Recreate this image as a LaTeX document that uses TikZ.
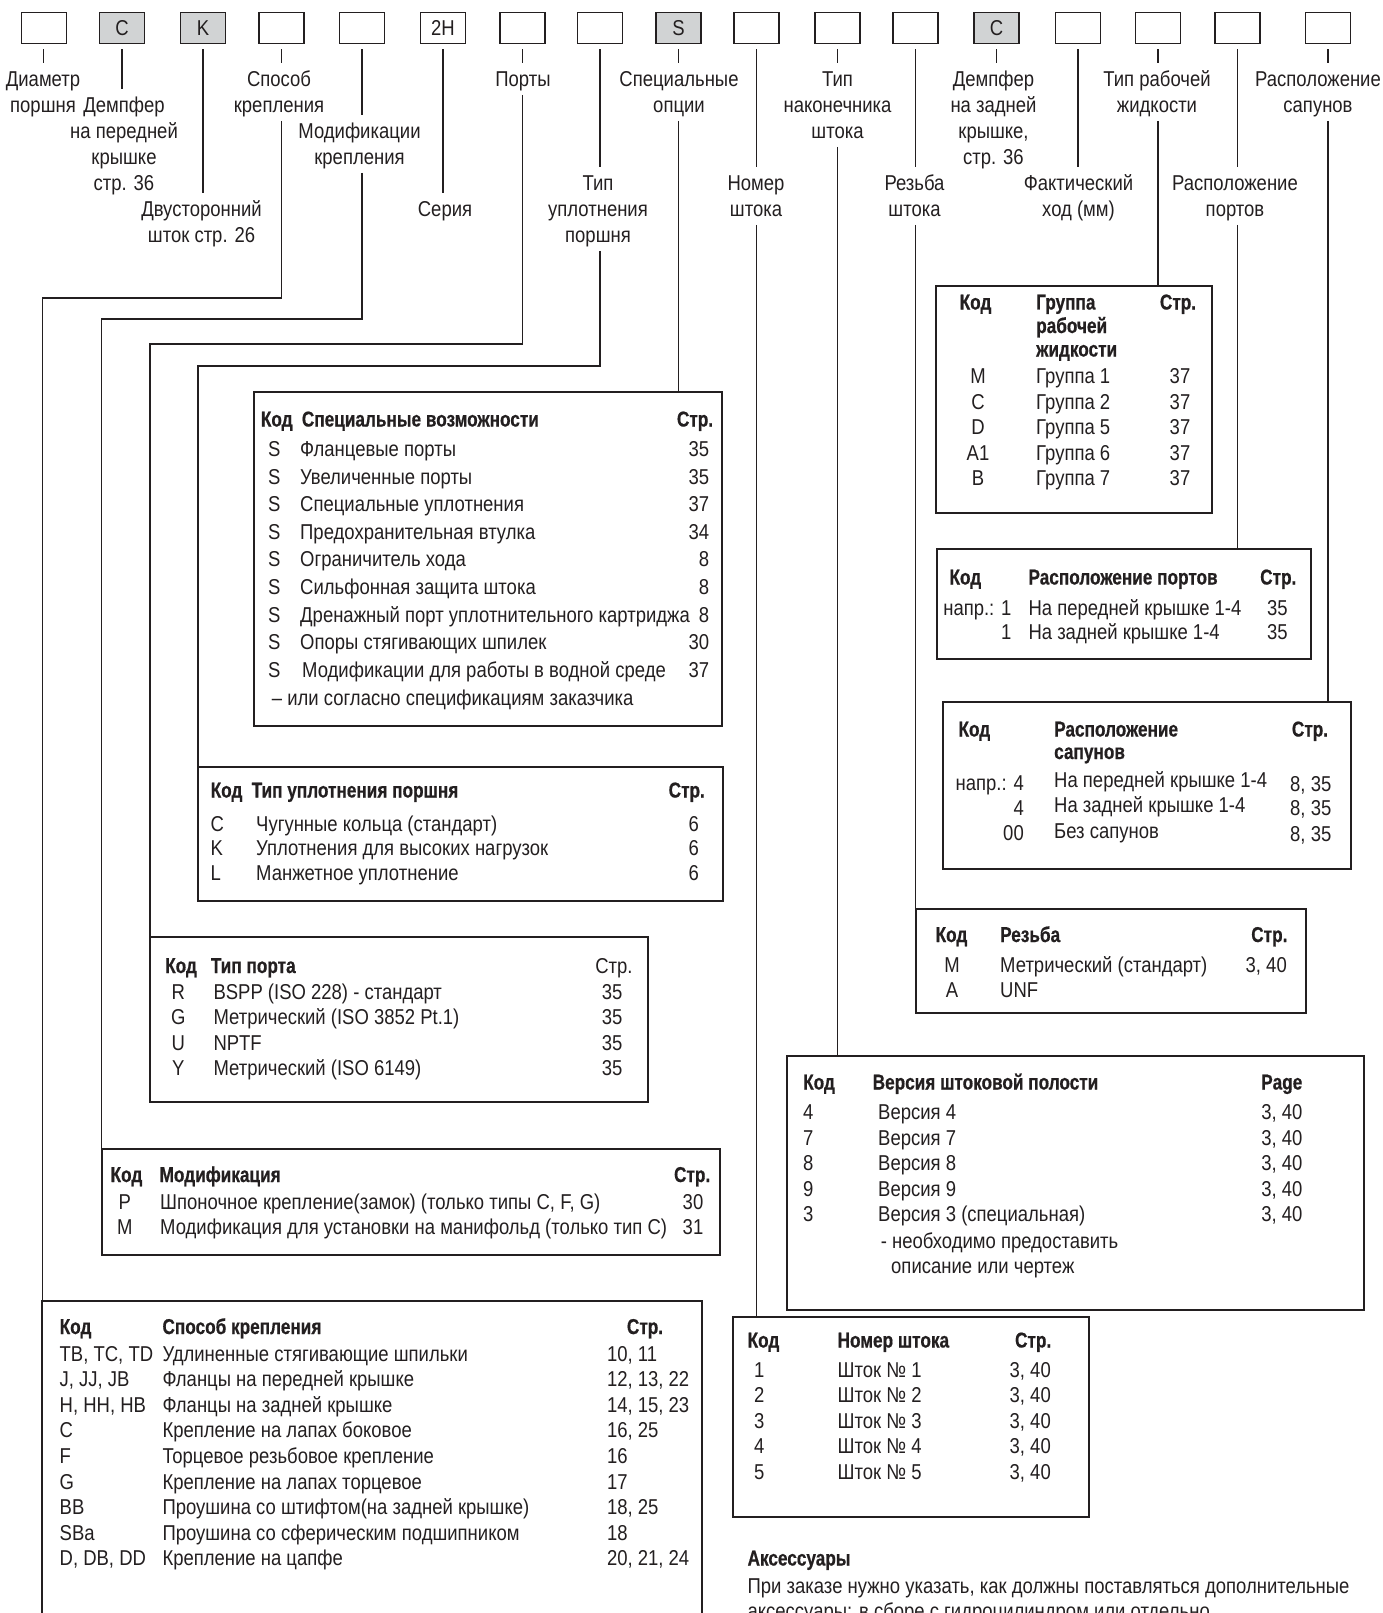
\documentclass[tikz,border=0pt]{standalone}
\usepackage{fontspec}
\setmainfont{Liberation Sans}[FakeStretch=0.86]
\newfontfamily\hdfont{Liberation Sans}[FakeStretch=0.80,FakeBold=0.6,UprightFont={* Bold}]
\usetikzlibrary{calc}
\definecolor{ink}{HTML}{231F20}
\definecolor{boxgray}{HTML}{D1D3D4}
\newcommand\myfs{\fontsize{21.5}{25.6}\selectfont}
\newcommand\mylfs{\fontsize{21.5}{26}\selectfont}
\begin{document}
\begin{tikzpicture}[x=1pt,y=-1pt,font=\myfs,text=ink,
  conn/.style={draw=ink,line width=1.3pt},
  cbox/.style={draw=ink,line width=1.2pt,minimum width=45pt,minimum height=31pt,inner sep=0pt,outer sep=0pt,fill=white},
  gbox/.style={cbox,fill=boxgray},
  lab/.style={align=center,inner sep=0pt,outer sep=0pt,anchor=north,font=\mylfs},
  tbl/.style={draw=ink,line width=2pt,anchor=north west,inner sep=0pt,outer sep=0pt},
  tl/.style={anchor=base west,inner sep=0pt},
  tr/.style={anchor=base east,inner sep=0pt},
  tc/.style={anchor=base,inner sep=0pt},
  th/.style={font=\myfs\hdfont}]
\useasboundingbox (0,0) rectangle (1382,1613);
\fill[white] (0,0) rectangle (1382,1613);
\clip (0,0) rectangle (1382,1613);

% top boxes
\node[cbox] (b1) at (43.7,27.8) {};
\node[gbox] (b2) at (122,27.8) {C};
\node[gbox] (b3) at (203,27.8) {K};
\node[cbox] (b4) at (281.5,27.8) {};
\node[cbox] (b5) at (362,27.8) {};
\node[cbox] (b6) at (443,27.8) {2H};
\node[cbox] (b7) at (522.5,27.8) {};
\node[cbox] (b8) at (600,27.8) {};
\node[gbox] (b9) at (678.5,27.8) {S};
\node[cbox] (b10) at (756.5,27.8) {};
\node[cbox] (b11) at (837.5,27.8) {};
\node[cbox] (b12) at (915.5,27.8) {};
\node[gbox] (b13) at (996.5,27.8) {C};
\node[cbox] (b14) at (1078,27.8) {};
\node[cbox] (b15) at (1158,27.8) {};
\node[cbox] (b16) at (1237.5,27.8) {};
\node[cbox] (b17) at (1328,27.8) {};

% labels (rows: 67.9 + 26k)
\node[lab] (l1) at (43,67.9) {\strut Диаметр\\поршня\strut};
\node[lab] (l2) at (124,93.9) {\strut Демпфер\\на передней\\крышке\\стр. 36\strut};
\node[lab] (l3) at (201.5,197.9) {\strut Двусторонний\\шток стр. 26\strut};
\node[lab] (l4) at (279,67.9) {\strut Способ\\крепления\strut};
\node[lab] (l5) at (359.5,119.9) {\strut Модификации\\крепления\strut};
\node[lab] (l6) at (445,197.9) {\strut Серия\strut};
\node[lab] (l7) at (523,67.9) {\strut Порты\strut};
\node[lab] (l8) at (598,171.9) {\strut Тип\\уплотнения\\поршня\strut};
\node[lab] (l9) at (679,67.9) {\strut Специальные\\опции\strut};
\node[lab] (l10) at (756,171.9) {\strut Номер\\штока\strut};
\node[lab] (l11) at (837.5,67.9) {\strut Тип\\наконечника\\штока\strut};
\node[lab] (l12) at (914.5,171.9) {\strut Резьба\\штока\strut};
\node[lab] (l13) at (993.5,67.9) {\strut Демпфер\\на задней\\крышке,\\стр. 36\strut};
\node[lab] (l14) at (1078.5,171.9) {\strut Фактический\\ход (мм)\strut};
\node[lab] (l15) at (1157,67.9) {\strut Тип рабочей\\жидкости\strut};
\node[lab] (l16) at (1235,171.9) {\strut Расположение\\портов\strut};
\node[lab] (l17) at (1318,67.9) {\strut Расположение\\сапунов\strut};

% ticks
\foreach \k in {1,...,17}{
  \draw[conn] ($(b\k.south)+(0,6)$) -- ($(b\k.south |- l\k.north)+(0,-5)$);
}

% tables
\node[tbl,minimum width=468.9pt,minimum height=333.8pt] (tsp) at (253.5,391.7) {};
\node[tbl,minimum width=525.4pt,minimum height=134pt] (tup) at (198,767) {};
\node[tbl,minimum width=497.5pt,minimum height=164.7pt] (tport) at (150,937.3) {};
\node[tbl,minimum width=618.5pt,minimum height=105.8pt] (tmod) at (101.5,1149.4) {};
\node[tbl,minimum width=659.6pt,minimum height=360pt] (tkr) at (42.4,1300.7) {};
\node[tbl,minimum width=275.5pt,minimum height=226.8pt] (tzh) at (936,286) {};
\node[tbl,minimum width=374pt,minimum height=110pt] (tpp) at (936.5,549) {};
\node[tbl,minimum width=408.3pt,minimum height=167pt] (tsap) at (942.7,702) {};
\node[tbl,minimum width=390.7pt,minimum height=104pt] (trez) at (915.5,909) {};
\node[tbl,minimum width=576.7pt,minimum height=254.3pt] (tver) at (787,1055.7) {};
\node[tbl,minimum width=355.8pt,minimum height=200.2pt] (tnom) at (732.7,1316.8) {};

% connectors
\coordinate (h4) at (0,298);
\coordinate (h5) at (0,319);
\coordinate (h7) at (0,344);
\coordinate (h8) at (0,366);
\draw[conn] ($(b4.south |- l4.south)+(0,1)$) -- (b4.south |- h4) -| (tkr.north west);
\draw[conn] ($(b5.south |- l5.south)+(0,1)$) -- (b5.south |- h5) -| (tmod.north west);
\draw[conn] ($(b7.south |- l7.south)+(0,1)$) -- (b7.south |- h7) -| (tport.north west);
\draw[conn] ($(b8.south |- l8.south)+(0,1)$) -- (b8.south |- h8) -| (tup.north west);
\draw[conn] ($(b9.south |- l9.south)+(0,1)$) -- (b9.south |- tsp.north);
\draw[conn] ($(b10.south |- l10.south)+(0,1)$) -- (b10.south |- tnom.north);
\draw[conn] ($(b11.south |- l11.south)+(0,1)$) -- (b11.south |- tver.north);
\draw[conn] ($(b12.south |- l12.south)+(0,1)$) -- (b12.south |- trez.north);
\draw[conn] ($(b15.south |- l15.south)+(0,1)$) -- (b15.south |- tzh.north);
\draw[conn] ($(b16.south |- l16.south)+(0,1)$) -- (b16.south |- tpp.north);
\draw[conn] ($(b17.south |- l17.south)+(0,1)$) -- (b17.south |- tsap.north);

% --- Special options table
\node[th,tl] (sph1) at (260.7,426.5) {Код};
\node[th,tl] (sph2) at (301.7,426.5) {Специальные возможности};
\node[th,tr] (sph3) at (713.3,426.5) {Стр.};
\foreach \dd/\pg [count=\n] in {{Фланцевые порты}/35,{Увеличенные порты}/35,{Специальные уплотнения}/37,{Предохранительная втулка}/34,{Ограничитель хода}/8,{Сильфонная защита штока}/8,{Дренажный порт уплотнительного картриджа}/8,{Опоры стягивающих шпилек}/30,{\hspace{2pt}Модификации для работы в водной среде}/37}{
  \pgfmathsetmacro\yy{456.5+27.6*(\n-1)}
  \node[tc] (spc\n) at (274.3,\yy) {S};
  \node[tl] (spd\n) at (300,\yy) {\dd};
  \node[tr] (spp\n) at (709.3,\yy) {\pg};
}
\node[tl] (spx) at (271.7,705) {– или согласно спецификациям заказчика};

% --- Piston seal table
\node[th,tl] (uph1) at (210.5,797.5) {Код};
\node[th,tl] (uph2) at (251.5,797.5) {Тип уплотнения поршня};
\node[th,tr] (uph3) at (705,797.5) {Стр.};
\foreach \cc/\dd [count=\n] in {C/{Чугунные кольца (стандарт)},K/{Уплотнения для высоких нагрузок},L/{Манжетное уплотнение}}{
  \pgfmathsetmacro\yy{831+24.8*(\n-1)}
  \node[tl] (upc\n) at (210.5,\yy) {\cc};
  \node[tl] (upd\n) at (256,\yy) {\dd};
  \node[tr] (upp\n) at (699,\yy) {6};
}

% --- Port type table
\node[th,tl] (poh1) at (165,973) {Код};
\node[th,tl] (poh2) at (210.7,973) {Тип порта};
\node[tr] (poh3) at (632.7,973) {Стр.};
\foreach \cc/\dd [count=\n] in {R/{BSPP (ISO 228) - стандарт},G/{Метрический (ISO 3852 Pt.1)},U/{NPTF},Y/{Метрический (ISO 6149)}}{
  \pgfmathsetmacro\yy{999+25.5*(\n-1)}
  \node[tc] (poc\n) at (178.3,\yy) {\cc};
  \node[tl] (pod\n) at (213.3,\yy) {\dd};
  \node[tr] (pop\n) at (622.7,\yy) {35};
}

% --- Modification table
\node[th,tl] (moh1) at (110.4,1182) {Код};
\node[th,tl] (moh2) at (159.4,1182) {Модификация};
\node[th,tr] (moh3) at (710.4,1182) {Стр.};
\node[tc] (moc1) at (124.7,1209) {P};
\node[tl] (mod1) at (160,1209) {Шпоночное крепление(замок) (только типы C, F, G)};
\node[tr] (mop1) at (703.5,1209) {30};
\node[tc] (moc2) at (124.7,1234) {M};
\node[tl] (mod2) at (160,1234) {Модификация для установки на манифольд (только тип C)};
\node[tr] (mop2) at (703.5,1234) {31};

% --- Mounting table
\node[th,tl] (krh1) at (59.5,1334) {Код};
\node[th,tl] (krh2) at (162.3,1334) {Способ крепления};
\node[th,tc] (krh3) at (645,1334) {Стр.};
\foreach \cc/\dd/\pg [count=\n] in {{TB, TC, TD}/{Удлиненные стягивающие шпильки}/{10, 11},{J, JJ, JB}/{Фланцы на передней крышке}/{12, 13, 22},{H, HH, HB}/{Фланцы на задней крышке}/{14, 15, 23},C/{Крепление на лапах боковое}/{16, 25},F/{Торцевое резьбовое крепление}/16,G/{Крепление на лапах торцевое}/17,BB/{Проушина со штифтом(на задней крышке)}/{18, 25},SBa/{Проушина со сферическим подшипником}/18,{D, DB, DD}/{Крепление на цапфе}/{20, 21, 24}}{
  \pgfmathsetmacro\yy{1361+25.6*(\n-1)}
  \node[tl] (krc\n) at (59.5,\yy) {\cc};
  \node[tl] (krd\n) at (162.3,\yy) {\dd};
  \node[tl] (krp\n) at (606.8,\yy) {\pg};
}

% --- Fluid table
\node[th,tc] (zhh1) at (975.5,309.5) {Код};
\node[th,tl] (zhh2) at (1036,309.5) {Группа};
\node[th,tl] (zhh3) at (1036,333) {рабочей};
\node[th,tl] (zhh4) at (1036,356.5) {жидкости};
\node[th,tc] (zhh5) at (1178,309.5) {Стр.};
\foreach \cc/\gg [count=\n] in {M/1,C/2,D/5,A1/6,B/7}{
  \pgfmathsetmacro\yy{383.5+25.6*(\n-1)}
  \node[tc] (zhc\n) at (978,\yy) {\cc};
  \node[tl] (zhd\n) at (1036,\yy) {Группа \gg};
  \node[tc] (zhp\n) at (1180,\yy) {37};
}

% --- Port location table
\node[th,tl] (pph1) at (949.3,584.5) {Код};
\node[th,tl] (pph2) at (1028.3,584.5) {Расположение портов};
\node[th,tl] (pph3) at (1260,584.5) {Стр.};
\node[tr] (ppc1) at (1011.7,615) {напр.: 1};
\node[tl] (ppd1) at (1028.3,615) {На передней крышке 1-4};
\node[tc] (ppp1) at (1277.3,615) {35};
\node[tr] (ppc2) at (1011.7,639) {1};
\node[tl] (ppd2) at (1028.3,639) {На задней крышке 1-4};
\node[tc] (ppp2) at (1277.3,639) {35};

% --- Breather table
\node[th,tl] (sah1) at (958.3,736.5) {Код};
\node[th,tl] (sah2) at (1054,736.5) {Расположение};
\node[th,tl] (sah3) at (1054,759) {сапунов};
\node[th,tl] (sah4) at (1291.7,736.5) {Стр.};
\node[tr] (sac1) at (1024,790.5) {напр.: 4};
\node[tl] (sad1) at (1054,787) {На передней крышке 1-4};
\node[tl] (sap1) at (1290,791.5) {8, 35};
\node[tr] (sac2) at (1024,815.5) {4};
\node[tl] (sad2) at (1054,812) {На задней крышке 1-4};
\node[tl] (sap2) at (1290,815.5) {8, 35};
\node[tr] (sac3) at (1024,840.5) {00};
\node[tl] (sad3) at (1054,838.5) {Без сапунов};
\node[tl] (sap3) at (1290,841) {8, 35};

% --- Thread table
\node[th,tl] (reh1) at (935.4,942) {Код};
\node[th,tl] (reh2) at (1000,942) {Резьба};
\node[th,tr] (reh3) at (1287.6,942) {Стр.};
\node[tc] (rec1) at (952,972) {M};
\node[tl] (red1) at (1000,972) {Метрический (стандарт)};
\node[tr] (rep1) at (1287,972) {3, 40};
\node[tc] (rec2) at (952,997) {A};
\node[tl] (red2) at (1000,997) {UNF};

% --- Rod end version table
\node[th,tl] (veh1) at (803,1089.5) {Код};
\node[th,tl] (veh2) at (872.5,1089.5) {Версия штоковой полости};
\node[th,tl] (veh3) at (1261,1089.5) {Page};
\foreach \cc/\dd [count=\n] in {4/{Версия 4},7/{Версия 7},8/{Версия 8},9/{Версия 9},3/{Версия 3 (специальная)}}{
  \pgfmathsetmacro\yy{1119.5+25.6*(\n-1)}
  \node[tl] (vec\n) at (803,\yy) {\cc};
  \node[tl] (ved\n) at (878,\yy) {\dd};
  \node[tr] (vep\n) at (1302.7,\yy) {3, 40};
}
\node[tl] (vex1) at (880.6,1248.5) {- необходимо предоставить};
\node[tl] (vex2) at (891,1273) {описание или чертеж};

% --- Rod number table
\node[th,tl] (noh1) at (747.4,1347.5) {Код};
\node[th,tl] (noh2) at (837.4,1347.5) {Номер штока};
\node[th,tr] (noh3) at (1051.4,1347.5) {Стр.};
\foreach \n in {1,...,5}{
  \pgfmathsetmacro\yy{1377+25.6*(\n-1)}
  \node[tc] (noc\n) at (759.3,\yy) {\n};
  \node[tl] (nod\n) at (837.4,\yy) {Шток № \n};
  \node[tr] (nop\n) at (1051,\yy) {3, 40};
}

% --- Accessories
\node[th,tl] (acc1) at (747.4,1565.5) {Аксессуары};
\node[tl] (acc2) at (747.4,1593.5) {При заказе нужно указать, как должны поставляться дополнительные};
\node[tl] (acc3) at (747.4,1618.5) {аксессуары: в сборе с гидроцилиндром или отдельно.};
\end{tikzpicture}
\end{document}
